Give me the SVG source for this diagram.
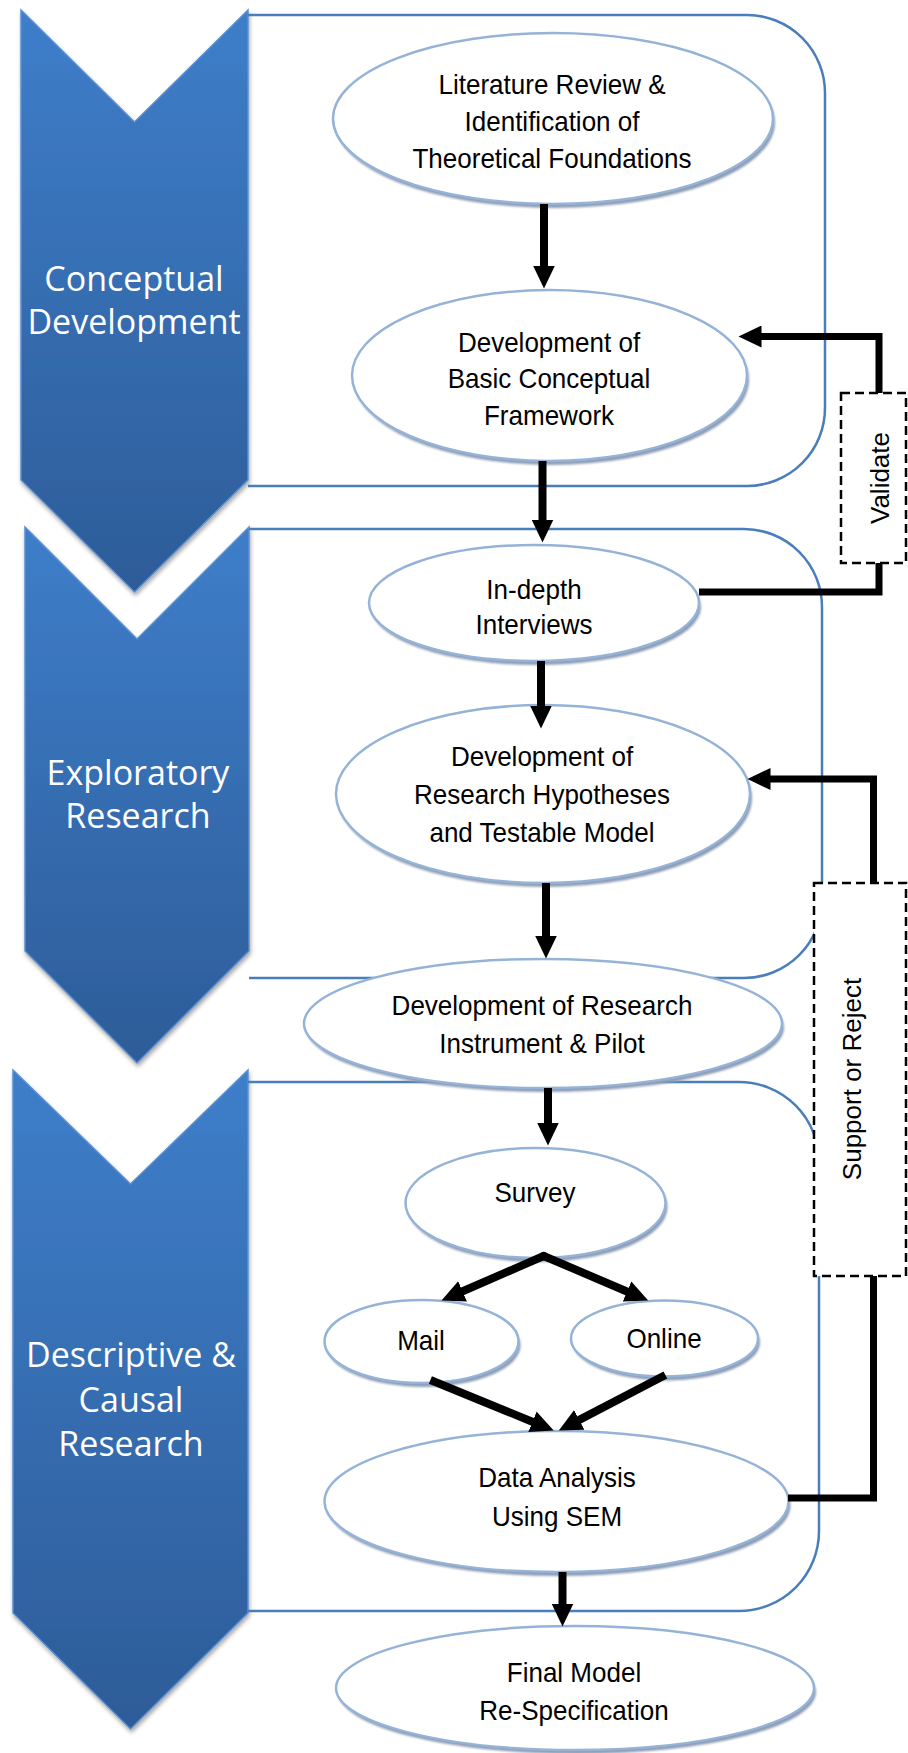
<svg xmlns="http://www.w3.org/2000/svg" width="908" height="1753" viewBox="0 0 908 1753">
<style>
.chev{fill:url(#chevGrad);stroke:#5b8fd0;stroke-width:1.5;filter:url(#chevShadow)}
.box{fill:none;stroke:#4a7ebb;stroke-width:2.5}
.ell{fill:#ffffff;stroke:#95b3d7;stroke-width:2.5}
.shd{fill:#8e9db5;filter:url(#blur)}
.lbl{font-family:"Open Sans","Noto Sans",sans-serif;font-size:34px;fill:#ffffff;text-anchor:middle}
.t{font-family:"Liberation Sans",Arial,sans-serif;font-size:28px;fill:#000000;text-anchor:middle}
.side{font-family:"Liberation Sans",Arial,sans-serif;font-size:26px;fill:#000000;text-anchor:middle}
.dash{fill:#ffffff;stroke:#000000;stroke-width:2.5;stroke-dasharray:9 5}
.arr{fill:none;stroke:#000000;stroke-width:8;marker-end:url(#ah)}
.elb{fill:none;stroke:#000000;stroke-width:7;stroke-linejoin:miter}
</style>
<defs>
<linearGradient id="chevGrad" x1="0" y1="0" x2="0" y2="1">
<stop offset="0" stop-color="#3e7eca"/>
<stop offset="1" stop-color="#2d5c98"/>
</linearGradient>
<filter id="chevShadow" x="-10%" y="-5%" width="125%" height="115%">
<feGaussianBlur in="SourceAlpha" stdDeviation="2"/>
<feOffset dx="1" dy="3" result="o"/>
<feComponentTransfer><feFuncA type="linear" slope="0.35"/></feComponentTransfer>
<feMerge><feMergeNode/><feMergeNode in="SourceGraphic"/></feMerge>
</filter>
<filter id="blur" x="-5%" y="-5%" width="110%" height="115%">
<feGaussianBlur stdDeviation="0.8"/>
</filter>
<marker id="ah" markerUnits="userSpaceOnUse" markerWidth="24" markerHeight="22" refX="0.5" refY="11" orient="auto" viewBox="0 0 24 22">
<path d="M0,0 L23,11 L0,22 Z" fill="#000000"/>
</marker>
</defs>

<g id="stage-conceptual">
<path class="chev" d="M21,10 L134.5,122 L248,10 L248,480 L134.5,592 L21,480 Z"/>
<text class="lbl" x="134" y="291">Conceptual</text>
<text class="lbl" x="134" y="334">Development</text>
</g>
<g id="stage-exploratory">
<path class="chev" d="M25,527 L137,639 L249,527 L249,951 L137,1063 L25,951 Z"/>
<text class="lbl" x="138" y="785">Exploratory</text>
<text class="lbl" x="138" y="828">Research</text>
</g>
<g id="stage-descriptive">
<path class="chev" d="M13,1070 L130.5,1184 L248,1070 L248,1613 L130.5,1729 L13,1613 Z"/>
<text class="lbl" x="131" y="1367">Descriptive &amp;</text>
<text class="lbl" x="131" y="1412">Causal</text>
<text class="lbl" x="131" y="1456">Research</text>
</g>

<g id="frames">
<path id="frame-conceptual" class="box" d="M248,15 H747 A78,78 0 0 1 825,93 V408 A78,78 0 0 1 747,486 H248"/>
<path id="frame-exploratory" class="box" d="M249,529 H744 A78,78 0 0 1 822,607 V900 A78,78 0 0 1 744,978 H249"/>
<path id="frame-descriptive" class="box" d="M248,1082 H739 A80,80 0 0 1 819,1162 V1531 A80,80 0 0 1 739,1611 H248"/>
</g>

<g id="validate">
<rect class="dash" x="841" y="393" width="65" height="170"/>
<text class="side" transform="translate(889,478) rotate(-90)" x="0" y="0">Validate</text>
</g>
<g id="support-reject">
<rect class="dash" x="814" y="883" width="92" height="393"/>
<text class="side" transform="translate(861,1079) rotate(-90)" x="0" y="0">Support or Reject</text>
</g>

<g id="literature-review">
<ellipse class="shd" cx="555" cy="122.5" rx="220" ry="85.5"/>
<ellipse class="ell" cx="553" cy="118.5" rx="220" ry="85.5"/>
<text class="t" transform="translate(552 0) scale(0.93 1)" x="0" y="94">Literature Review &amp;</text>
<text class="t" transform="translate(552 0) scale(0.93 1)" x="0" y="131">Identification of</text>
<text class="t" transform="translate(552 0) scale(0.93 1)" x="0" y="168">Theoretical Foundations</text>
</g>
<g id="basic-framework">
<ellipse class="shd" cx="551.5" cy="379.5" rx="197.5" ry="85.5"/>
<ellipse class="ell" cx="549.5" cy="375.5" rx="197.5" ry="85.5"/>
<text class="t" transform="translate(549 0) scale(0.93 1)" x="0" y="352">Development of</text>
<text class="t" transform="translate(549 0) scale(0.93 1)" x="0" y="388">Basic Conceptual</text>
<text class="t" transform="translate(549 0) scale(0.93 1)" x="0" y="425">Framework</text>
</g>
<g id="interviews">
<ellipse class="shd" cx="536" cy="607" rx="165" ry="58"/>
<ellipse class="ell" cx="534" cy="603" rx="165" ry="58"/>
<text class="t" transform="translate(534 0) scale(0.93 1)" x="0" y="599">In-depth</text>
<text class="t" transform="translate(534 0) scale(0.93 1)" x="0" y="634">Interviews</text>
</g>
<g id="hypotheses">
<ellipse class="shd" cx="545" cy="798" rx="207" ry="89"/>
<ellipse class="ell" cx="543" cy="794" rx="207" ry="89"/>
<text class="t" transform="translate(542 0) scale(0.93 1)" x="0" y="766">Development of</text>
<text class="t" transform="translate(542 0) scale(0.93 1)" x="0" y="804">Research Hypotheses</text>
<text class="t" transform="translate(542 0) scale(0.93 1)" x="0" y="842">and Testable Model</text>
</g>
<g id="instrument">
<ellipse class="shd" cx="545" cy="1027.5" rx="239" ry="64.5"/>
<ellipse class="ell" cx="543" cy="1023.5" rx="239" ry="64.5"/>
<text class="t" transform="translate(542 0) scale(0.93 1)" x="0" y="1015">Development of Research</text>
<text class="t" transform="translate(542 0) scale(0.93 1)" x="0" y="1053">Instrument &amp; Pilot</text>
</g>
<g id="survey">
<ellipse class="shd" cx="537.5" cy="1207" rx="130" ry="55"/>
<ellipse class="ell" cx="535.5" cy="1203" rx="130" ry="55"/>
<text class="t" transform="translate(535 0) scale(0.93 1)" x="0" y="1202">Survey</text>
</g>
<g id="mail">
<ellipse class="shd" cx="423.5" cy="1345.5" rx="97" ry="41.5"/>
<ellipse class="ell" cx="421.5" cy="1341.5" rx="97" ry="41.5"/>
<text class="t" transform="translate(421 0) scale(0.93 1)" x="0" y="1350">Mail</text>
</g>
<g id="online">
<ellipse class="shd" cx="666.5" cy="1342.5" rx="93.5" ry="38"/>
<ellipse class="ell" cx="664.5" cy="1338.5" rx="93.5" ry="38"/>
<text class="t" transform="translate(664 0) scale(0.93 1)" x="0" y="1348">Online</text>
</g>
<g id="data-analysis">
<ellipse class="shd" cx="558.5" cy="1505.5" rx="232" ry="70.5"/>
<ellipse class="ell" cx="556.5" cy="1501.5" rx="232" ry="70.5"/>
<text class="t" transform="translate(557 0) scale(0.93 1)" x="0" y="1487">Data Analysis</text>
<text class="t" transform="translate(557 0) scale(0.93 1)" x="0" y="1526">Using SEM</text>
</g>
<g id="final-model">
<ellipse class="shd" cx="577" cy="1692" rx="239" ry="62"/>
<ellipse class="ell" cx="575" cy="1688" rx="239" ry="62"/>
<text class="t" transform="translate(574 0) scale(0.93 1)" x="0" y="1682">Final Model</text>
<text class="t" transform="translate(574 0) scale(0.93 1)" x="0" y="1720">Re-Specification</text>
</g>

<g id="connectors">
<path class="arr" d="M544,204 V266"/>
<path class="arr" d="M542.5,461 V520"/>
<path class="arr" d="M541,661 V706"/>
<path class="arr" d="M546,883 V936"/>
<path class="arr" d="M548,1088 V1123"/>
<path class="arr" d="M543.7,1256 L462.1,1291.5" stroke-linecap="round"/>
<path class="arr" d="M543.7,1256 L627.5,1291.7" stroke-linecap="round"/>
<path class="arr" d="M430.4,1380 L532.9,1422"/>
<path class="arr" d="M665.4,1375 L578.8,1420.1"/>
<path class="arr" d="M562.5,1572 V1604"/>
<path class="elb" d="M879,393 V336.5 H761" marker-end="url(#ah)"/>
<path class="elb" d="M699,592 H879 V563"/>
<path class="elb" d="M873.5,883 V779 H770" marker-end="url(#ah)"/>
<path class="elb" d="M788,1498 H873.5 V1276"/>
</g>
</svg>
